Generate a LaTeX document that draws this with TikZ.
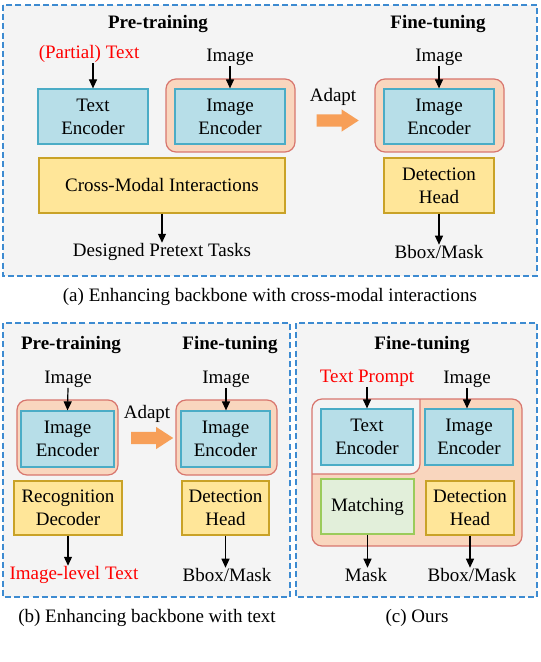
\documentclass[tikz,border=0pt]{standalone}
\usepackage{fontspec}
\setmainfont{Liberation Serif}
\usetikzlibrary{arrows.meta, positioning, shapes.arrows}
\definecolor{cframe}{HTML}{3D8BD1}
\definecolor{cpanel}{HTML}{F4F4F4}
\definecolor{cenc}{HTML}{B7DEE8}
\definecolor{cencline}{HTML}{4BACC6}
\definecolor{chead}{HTML}{FFE699}
\definecolor{cheadline}{HTML}{C9A227}
\definecolor{cwrap}{HTML}{F9D6BE}
\definecolor{cwrapline}{HTML}{D8766E}
\definecolor{cmatch}{HTML}{E2EFDA}
\definecolor{cmatchline}{HTML}{9BCB5B}
\definecolor{cadapt}{HTML}{F79F58}
\definecolor{cred}{HTML}{FF0000}
\tikzset{
  every picture/.style={font=\fontsize{9.5}{11.5}\selectfont, line width=0.6pt},
  panel/.style={draw=cframe, fill=cpanel, dash pattern=on 3pt off 1.6pt, line width=0.6pt},
  enc/.style={draw=cencline, fill=cenc, align=center, inner sep=0pt, minimum width=55pt, minimum height=27.5pt},
  head/.style={draw=cheadline, fill=chead, align=center, inner sep=0pt, minimum width=55pt, minimum height=27.5pt},
  wrap/.style={draw=cwrapline, fill=cwrap, rounded corners=5pt, inner sep=0pt},
  arrow/.style={-{Triangle[length=4.5pt, width=4pt]}, draw=black, line width=0.6pt},
  title/.style={font=\fontsize{9.5}{11.5}\selectfont\bfseries},
}

\begin{document}
\begin{tikzpicture}[
    x=0.5pt, y=-0.5pt,
    lbl/.style={inner sep=0pt},
    redlbl/.style={lbl, text=cred},
    adapt/.style={single arrow, fill=cadapt, draw=none, inner xsep=0pt, inner ysep=2.75pt, minimum height=21pt, single arrow head extend=2.5pt, single arrow tip angle=66},
  ]
  \useasboundingbox (0,0) rectangle (540,662);

  % (a) cross-modal interactions
  \draw[panel] (3,5) rectangle (537,276);
  \node[title] (preA) at (158,24) {Pre-training};
  \node[title] (ftA) at (438,24) {Fine-tuning};
  \node[redlbl] (txtA) at (89,54) {(Partial) Text};
  \node[lbl] (imgA) at (230,57) {Image};
  \node[enc] (teA) at (93,116.5) {Text\\Encoder};
  \node[wrap, minimum width=64.5pt, minimum height=36.5pt] (wrapA) at (230.5,115.5) {};
  \node[enc] (ieA) at (230,116.5) {Image\\Encoder};
  \node[head, minimum width=123pt] (cmA) at (162,185.5) {Cross-Modal Interactions};
  \node[lbl] (taskA) at (162,252) {Designed Pretext Tasks};
  \draw[arrow] (teA.north |- txtA.south) -- (teA.north);
  \draw[arrow] (imgA.south) -- (ieA.north);
  \draw[arrow] (cmA.south) -- (taskA.north);

  \node[lbl] (adlA) at (333,97) {Adapt};
  \node[adapt] (adA) at (333,120.5) {};

  \node[lbl] (imgA2) at (439,57) {Image};
  \node[wrap, minimum width=64.5pt, minimum height=36.5pt] (wrapA2) at (439.5,115.5) {};
  \node[enc] (ieA2) at (439,116.5) {Image\\Encoder};
  \node[head] (dhA) at (439,185.5) {Detection\\Head};
  \node[lbl] (bbA) at (439,252) {Bbox/Mask};
  \draw[arrow] (imgA2.south) -- (ieA2.north);
  \draw[arrow] (dhA.south) -- (bbA.north);
  \node[lbl] (capA) at (270,297) {(a) Enhancing backbone with cross-modal interactions};

  % (b) enhancing with text
  \draw[panel] (3,323) rectangle (290,597);
  \node[title] (preB) at (71,345) {Pre-training};
  \node[title] (ftB) at (230,345) {Fine-tuning};
  \node[lbl] (imgB) at (68,379) {Image};
  \node[wrap, minimum width=50.5pt, minimum height=37.5pt] (wrapB) at (67.5,437.5) {};
  \node[enc, minimum width=46.5pt, minimum height=28pt] (ieB) at (67.5,439) {Image\\Encoder};
  \node[head, minimum width=54pt, minimum height=27pt] (rdB) at (68,508) {Recognition\\Decoder};
  \node[redlbl] (itB) at (74,575) {Image-level Text};
  \draw[arrow] (imgB.south) -- (ieB.north);
  \draw[arrow] (rdB.south) -- (rdB.south |- itB.north);

  \node[lbl] (adlB) at (147,414) {Adapt};
  \node[adapt] (adB) at (147.5,438) {};

  \node[lbl] (imgB2) at (226,379) {Image};
  \node[wrap, minimum width=50.5pt, minimum height=37.5pt] (wrapB2) at (226.5,437.5) {};
  \node[enc, minimum width=44.5pt, minimum height=28pt] (ieB2) at (225.5,439) {Image\\Encoder};
  \node[head, minimum width=43.5pt, minimum height=27pt] (dhB) at (225.5,508) {Detection\\Head};
  \node[lbl] (bbB) at (227,575) {Bbox/Mask};
  \draw[arrow] (imgB2.south) -- (imgB2.south |- ieB2.north);
  \draw[arrow] (dhB.south) -- (dhB.south |- bbB.north);
  \node[lbl] (capB) at (147,618) {(b) Enhancing backbone with text};

  % (c) ours
  \draw[panel] (296,323) rectangle (537,597);
  \node[title] (ftC) at (422,345) {Fine-tuning};
  \node[redlbl] (tpC) at (367,378) {Text Prompt};
  \node[lbl] (imgC) at (467,379) {Image};
  \begin{scope}
    \clip[rounded corners=5pt] (312,399) rectangle (522,546);
    \fill[cwrap] (312,399) rectangle (522,546);
    \draw[cwrapline, fill=cpanel, rounded corners=5pt] (290,380) rectangle (420,474);
  \end{scope}
  \draw[cwrapline, rounded corners=5pt] (312,399) rectangle (522,546);
  \node[enc, minimum width=46pt, minimum height=28pt] (teC) at (367,437) {Text\\Encoder};
  \node[enc, minimum width=44pt, minimum height=28pt] (ieC) at (469,437) {Image\\Encoder};
  \node[draw=cmatchline, fill=cmatch, inner sep=0pt, minimum width=46.5pt, minimum height=27.5pt] (mtC) at (367.5,506.5) {Matching};
  \node[head, minimum width=44pt, minimum height=27pt] (dhC) at (470,508) {Detection\\Head};
  \node[lbl] (mkC) at (366,575) {Mask};
  \node[lbl] (bbC) at (472,575) {Bbox/Mask};
  \draw[arrow] (tpC.south) -- (teC.north);
  \draw[arrow] (imgC.south) -- (imgC.south |- ieC.north);
  \draw[arrow] (mtC.south) -- (mtC.south |- mkC.north);
  \draw[arrow] (dhC.south) -- (dhC.south |- bbC.north);
  \node[lbl] (capC) at (417,618) {(c) Ours};
\end{tikzpicture}
\end{document}
